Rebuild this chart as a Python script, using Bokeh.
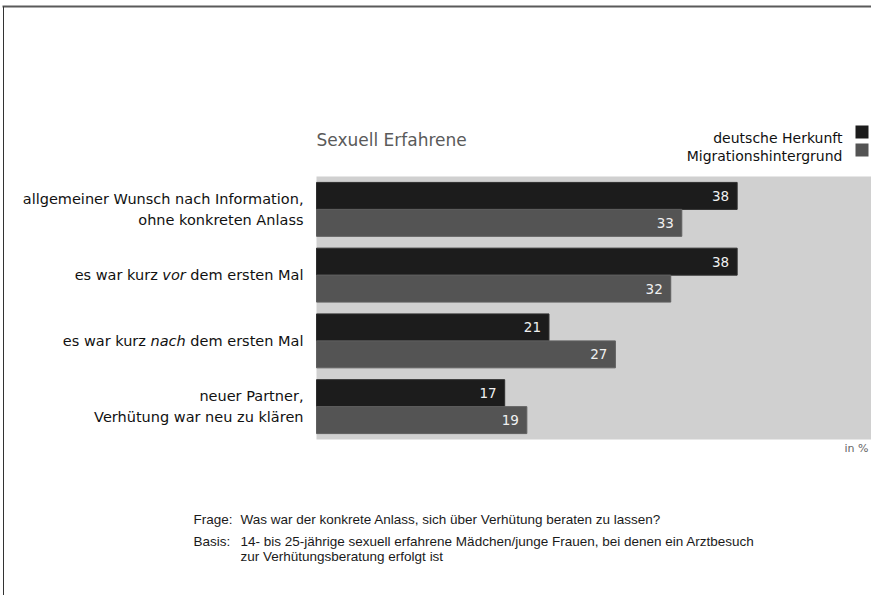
from bokeh.plotting import figure
from bokeh.models import Range1d, ColumnDataSource, Label, BoxAnnotation
from bokeh.transform import dodge
from bokeh.core.properties import value
from bokeh.embed import file_html
from bokeh.resources import INLINE

# ---------------- data ----------------
categories = [
    "allgemeiner Wunsch nach Information, ohne konkreten Anlass",
    "es war kurz vor dem ersten Mal",
    "es war kurz nach dem ersten Mal",
    "neuer Partner, Verhütung war neu zu klären",
]
deutsch = [38, 38, 21, 17]
migration = [33, 32, 27, 19]
series_names = ["deutsche Herkunft", "Migrationshintergrund"]
# category labels as (text, style) segments
label_parts = [
    [("allgemeiner Wunsch nach Information,\nohne konkreten Anlass", "normal")],
    [("es war kurz", "normal"), ("vor", "italic"), ("dem ersten Mal", "normal")],
    [("es war kurz", "normal"), ("nach", "italic"), ("dem ersten Mal", "normal")],
    [("neuer Partner,\nVerhütung war neu zu klären", "normal")],
]
chart_title = "Sexuell Erfahrene"
unit_note = "in %"
footer = [
    ("Frage:", "Was war der konkrete Anlass, sich über Verhütung beraten zu lassen?"),
    ("Basis:", "14- bis 25-jährige sexuell erfahrene Mädchen/junge Frauen, bei denen ein Arztbesuch"),
    ("", "zur Verhütungsberatung erfolgt ist"),
]

# ---------------- style / layout ----------------
DARK = "#1c1c1c"
MID = "#545454"
BG = "#d0d0d0"
FONT = "DejaVu Sans"
LABEL_SIZE = 14.5

W, H = 871, 595
X0, PX = 316.0, 11.07          # pixel of value 0, pixels per percent
Y_BOTTOM, ROW = 439.0, 65.75   # pixel of plot-area bottom, pixels per category band

# DejaVu Sans advance widths (units per 2048 em) for measuring label segments
ADV = {" ": 651, "a": 1255, "c": 1126, "d": 1300, "e": 1260, "h": 1298, "k": 1186,
       "l": 569, "m": 1995, "n": 1298, "o": 1253, "r": 842, "s": 1067, "t": 803,
       "u": 1298, "v": 1212, "w": 1675, "z": 1075, "M": 1767}


def text_width(s, size):
    return sum(ADV.get(ch, 1250) for ch in s) / 2048.0 * size


def dx(px):
    return (px - X0) / PX


def dy(py):
    return (Y_BOTTOM - py) / ROW


n = len(categories)
p = figure(width=W, height=H,
           x_range=Range1d(dx(0), dx(W)), y_range=Range1d(dy(H), dy(0)),
           output_backend="svg", toolbar_location=None,
           x_axis_location=None, y_axis_location=None, title=None,
           min_border=0, min_border_left=0, min_border_right=0,
           min_border_top=0, min_border_bottom=0)
p.background_fill_color = "white"
p.border_fill_color = "white"
p.outline_line_color = None
p.xgrid.visible = False
p.ygrid.visible = False

# frame lines of the original figure
p.segment(x0=[dx(2), dx(3)], y0=[dy(6), dy(6)], x1=[dx(W), dx(3)], y1=[dy(6), dy(H)],
          line_color=["#5a5a5a", "#333333"], line_width=[2, 1])

# plot area background
p.add_layout(BoxAnnotation(left=0, right=None, bottom=0, top=n, fill_color=BG,
                           fill_alpha=1, line_color=None, level="underlay"))

ypos = [n - i - 0.5 for i in range(n)]  # category band centres, first on top
src = ColumnDataSource(dict(
    cat=categories,
    y=ypos,
    deutsch=deutsch,
    migration=migration,
    d_lbl=[str(v) for v in deutsch],
    m_lbl=[str(v) for v in migration],
))

OFF = 0.205
HGT = 0.41
p.hbar(y=dodge("y", OFF), left=0, right="deutsch", height=HGT,
       source=src, fill_color=DARK, line_color="#2e2e2e", line_width=1)
p.hbar(y=dodge("y", -OFF), left=0, right="migration", height=HGT,
       source=src, fill_color=MID, line_color="#606060", line_width=1)

for col, lbl, off in (("deutsch", "d_lbl", OFF), ("migration", "m_lbl", -OFF)):
    p.text(x=col, y=dodge("y", off), text=lbl, source=src,
           x_offset=-8, text_align="right", text_baseline="middle",
           text_color="#f0f0f0", text_font=value(FONT), text_font_size="13.5px")

# category labels (right aligned at the left of the plot area)
for yc, parts in zip(ypos, label_parts):
    xo = -13.0
    for txt, style in reversed(parts):
        p.add_layout(Label(x=0, y=yc, x_offset=xo, text=txt, text_align="right",
                           text_baseline="middle", text_font=FONT,
                           text_font_size=f"{LABEL_SIZE}px", text_font_style=style,
                           text_color="#111111", text_line_height=1.3))
        xo -= text_width(txt + " ", LABEL_SIZE)

# title
p.add_layout(Label(x=dx(316), y=dy(139.5), text=chart_title,
                   text_baseline="alphabetic", text_font=FONT, text_font_size="17px",
                   text_color="#5a5a5a"))

# legend
legend_colors = [DARK, MID]
for name, colr, base, (sq_t, sq_b) in zip(series_names, legend_colors, [137, 155],
                                           [(125, 138), (143, 156)]):
    p.add_layout(Label(x=dx(842), y=dy(base), text=name, text_align="right",
                       text_baseline="alphabetic", text_font=FONT, text_font_size="14px",
                       text_color="#111111"))
    p.add_layout(BoxAnnotation(left=dx(855), right=dx(868), top=dy(sq_t), bottom=dy(sq_b),
                               fill_color=colr, fill_alpha=1, line_color=None))

# unit note
p.add_layout(Label(x=dx(868), y=dy(448), text=unit_note, text_align="right",
                   text_baseline="middle", text_font=FONT, text_font_size="11px",
                   text_color="#666666"))

# footer
for (head, body), yc in zip(footer, [519, 541, 556]):
    if head:
        p.add_layout(Label(x=dx(193), y=dy(yc), text=head,
                           text_baseline="middle", text_font="Liberation Sans",
                           text_font_size="13.5px", text_color="#1a1a1a"))
    p.add_layout(Label(x=dx(240), y=dy(yc), text=body,
                       text_baseline="middle", text_font="Liberation Sans",
                       text_font_size="13.5px", text_color="#1a1a1a"))

open("out.html", "w").write(file_html(p, INLINE))
